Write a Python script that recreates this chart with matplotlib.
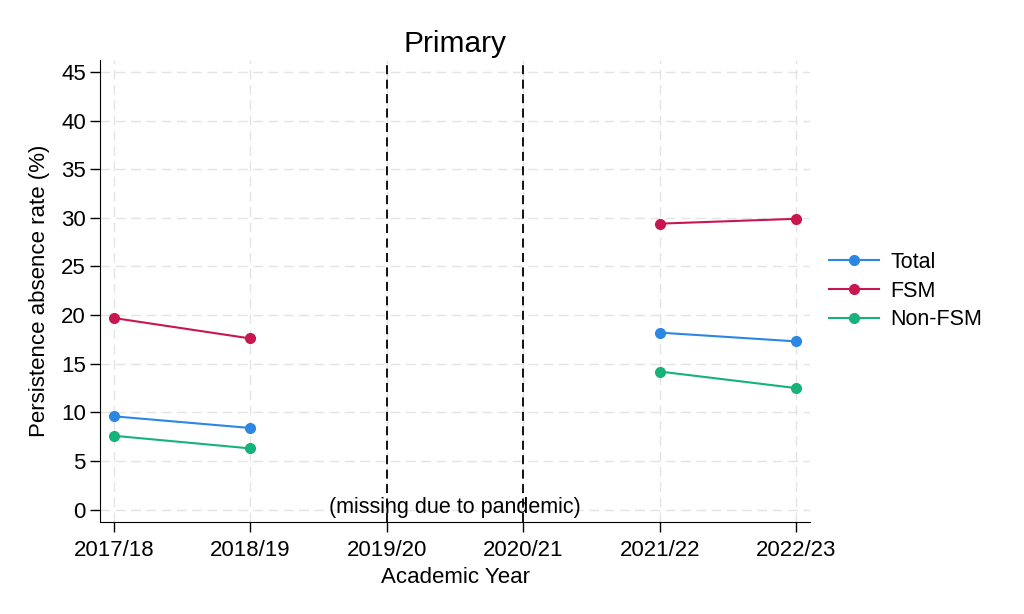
import matplotlib.pyplot as plt

plt.rcParams['font.family'] = ['Liberation Sans', 'DejaVu Sans']

years = ['2017/18', '2018/19', '2019/20', '2020/21', '2021/22', '2022/23']
# None = no data (pandemic years)
total = [9.6, 8.4, None, None, 18.2, 17.3]
fsm = [19.7, 17.6, None, None, 29.4, 29.9]
non_fsm = [7.6, 6.3, None, None, 14.2, 12.5]

series = [('Total', total, '#2b87e3'),
          ('FSM', fsm, '#c8174f'),
          ('Non-FSM', non_fsm, '#15b37a')]

fig = plt.figure(figsize=(10.24, 6.14), dpi=100)
ax = fig.add_axes([0.098, 0.150, 0.693, 0.752])

x = list(range(len(years)))
for name, vals, col in series:
    xs = [i for i, v in zip(x, vals) if v is not None]
    ys = [v for v in vals if v is not None]
    # split into the two segments either side of the gap
    first = [(a, b) for a, b in zip(xs, ys) if a < 2]
    second = [(a, b) for a, b in zip(xs, ys) if a > 3]
    ax.plot([p[0] for p in first], [p[1] for p in first], color=col, marker='o',
            markersize=7, linewidth=1.5, label=name)
    ax.plot([p[0] for p in second], [p[1] for p in second], color=col, marker='o',
            markersize=7, linewidth=1.5)

for gap in (2, 3):
    ax.axvline(gap, color='black', linestyle=(0, (5, 3)), linewidth=1.3, zorder=1)

ax.text(2.5, 0.2, '(missing due to pandemic)', ha='center', va='center', fontsize=15.5)

ax.set_xlim(-0.1, 5.1)
ax.set_ylim(-1.25, 46.2)
ax.set_xticks(x)
ax.set_xticklabels(years)
ax.set_yticks(range(0, 46, 5))
ax.tick_params(axis='both', labelsize=16, length=7, width=1)
ax.tick_params(axis='x', pad=6)
ax.grid(True, color='#e4e4e4', linestyle=(0, (7, 4)), linewidth=1)
ax.set_axisbelow(True)
for s in ('top', 'right'):
    ax.spines[s].set_visible(False)

ax.set_title('Primary', fontsize=21.5, pad=6)
ax.set_xlabel('Academic Year', fontsize=16, labelpad=4)
ax.set_ylabel('Persistence absence rate (%)', fontsize=16, labelpad=8)

ax.legend(loc='center left', bbox_to_anchor=(0.999, 0.50), frameon=False, fontsize=15.5,
          handlelength=2.35, handletextpad=0.5, labelspacing=0.35)

fig.savefig('out.png', dpi=100)
